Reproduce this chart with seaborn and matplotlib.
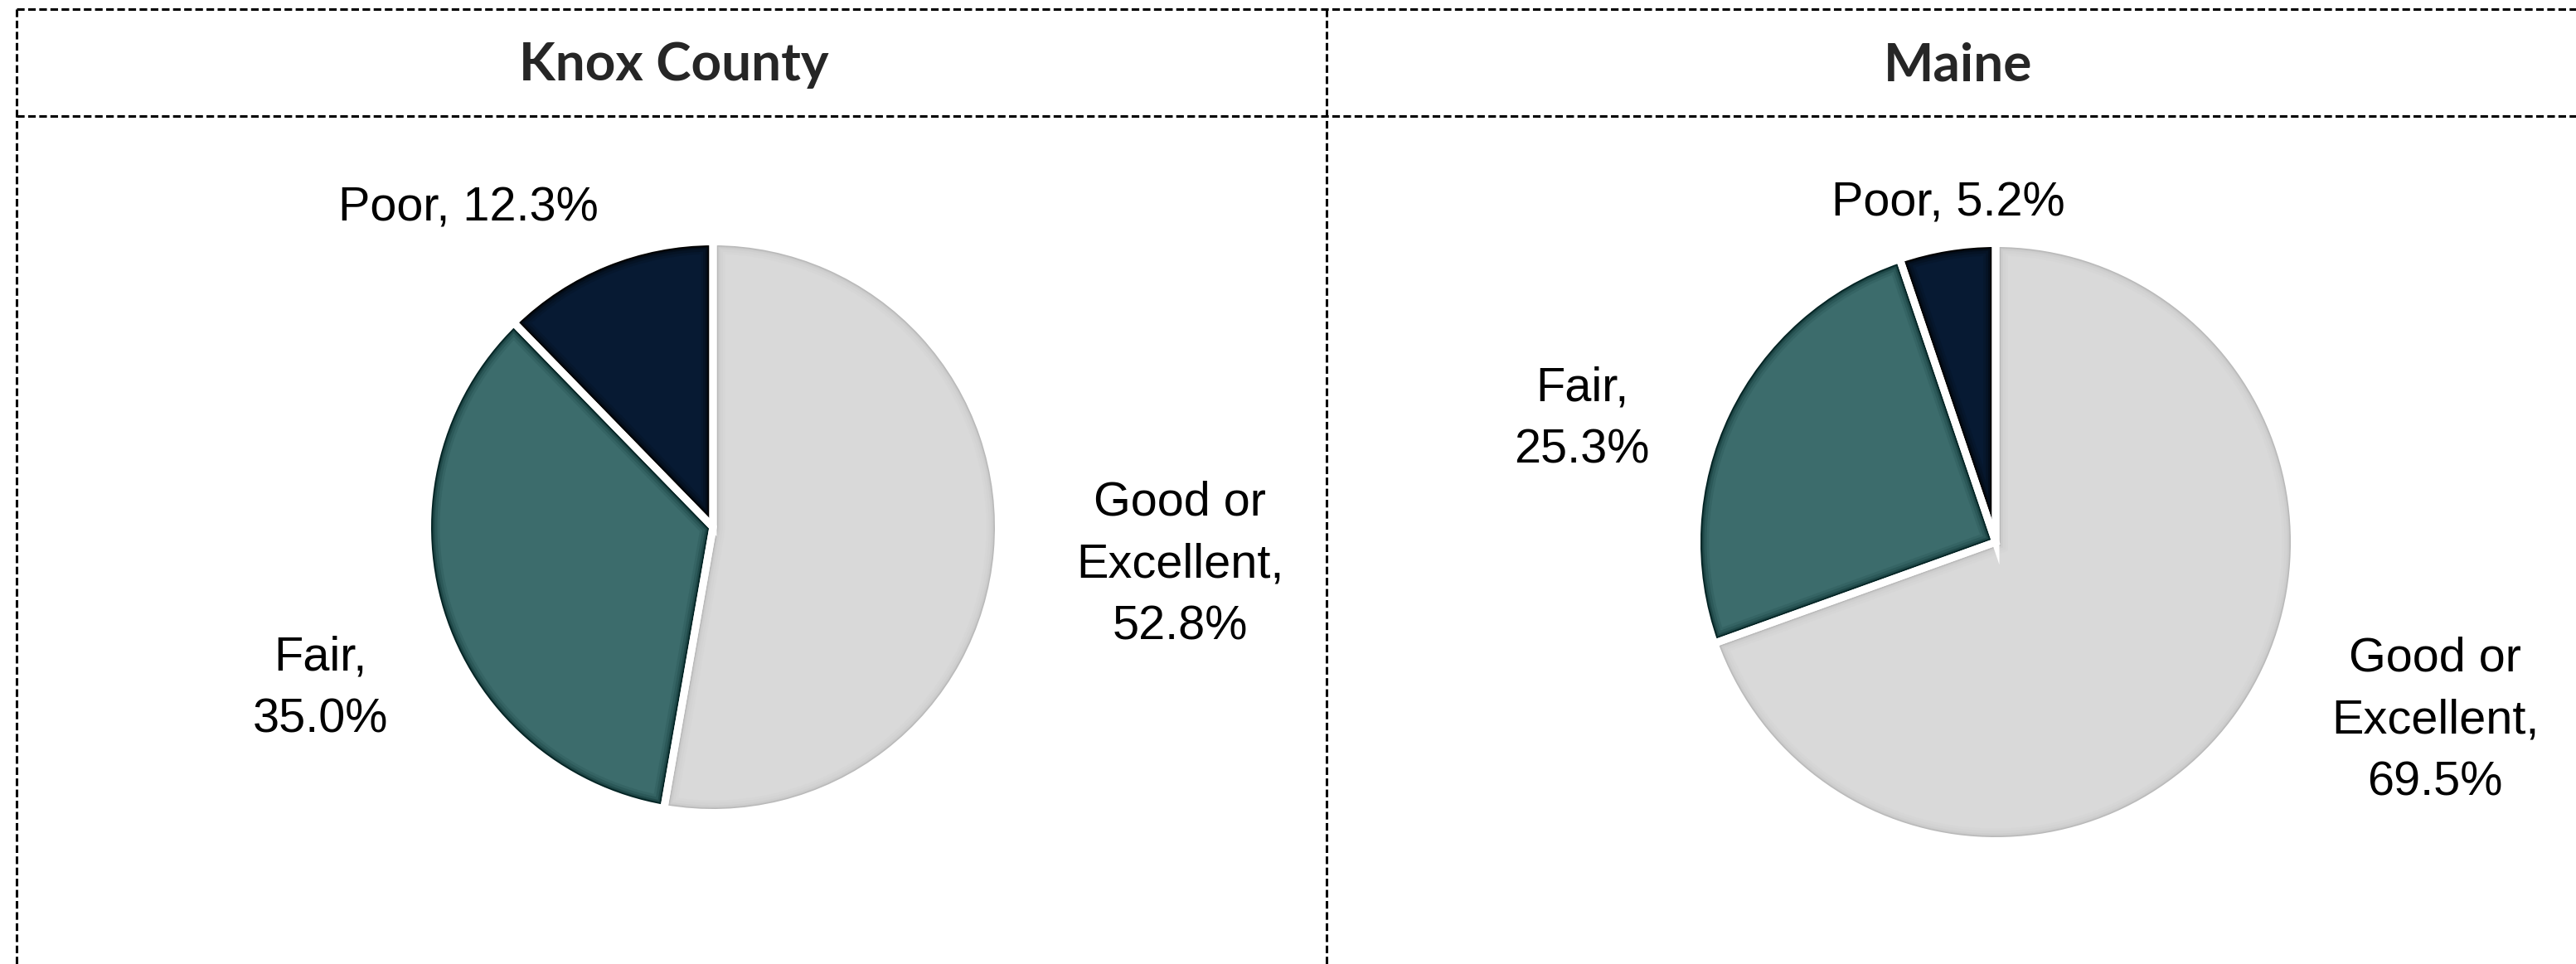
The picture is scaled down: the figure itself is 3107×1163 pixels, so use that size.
import matplotlib
matplotlib.use("Agg")
import matplotlib.pyplot as plt
import seaborn as sns

# Self-rated health, share of adults
categories = ["Good or Excellent", "Fair", "Poor"]
label_lines = ["Good or\nExcellent,", "Fair,", "Poor,"]
knox_values = [52.8, 35.0, 12.3]
maine_values = [69.5, 25.3, 5.2]
panel_titles = ["Knox County", "Maine"]

slice_colors = ["#D9D9D9", "#3C6C6C", "#071A33"]
shade_colors = ["#B4B4B4", "#012222", "#000000"]
shade_strength = [0.55, 1.0, 1.0]

sns.set_theme(style="white")
plt.rcParams["font.family"] = ["Liberation Sans", "DejaVu Sans"]

W, H = 3107, 1163
fig = plt.figure(figsize=(W / 100, H / 100), dpi=100)
fig.patch.set_facecolor("white")

# Full-figure layer in pixel units for the frame and headers
bg = fig.add_axes([0, 0, 1, 1])
bg.set_xlim(0, W)
bg.set_ylim(H, 0)
bg.axis("off")

dash = dict(color="black", lw=2.2, linestyle=(0, (3.0, 1.4)), solid_capstyle="butt")
left_x, mid_x, right_x = 20, 1600, 3124
top_y, head_y = 11, 140
bg.plot([left_x, W + 10], [top_y, top_y], **dash)
bg.plot([left_x, W + 10], [head_y, head_y], **dash)
bg.plot([left_x, left_x], [top_y, H + 10], **dash)
bg.plot([mid_x, mid_x], [top_y, H + 10], **dash)

for title, cx in zip(panel_titles, [(left_x + mid_x) / 2 + 3, (mid_x + right_x) / 2]):
    bg.text(cx, (top_y + head_y) / 2 + 3, title, ha="center", va="center",
            fontsize=46, fontweight="bold", family=["Lato", "DejaVu Sans"])


def draw_pie(values, cx, cy, r, label_pos):
    gap = 9  # white separator width in px
    R = r + gap / 2
    ax = fig.add_axes([(cx - R) / W, 1 - (cy + R) / H, 2 * R / W, 2 * R / H])
    wedges, _ = ax.pie(values, colors=slice_colors, startangle=90, counterclock=False,
                       radius=1, wedgeprops=dict(linewidth=0))
    # soft dark rim inside each slice
    for w, sc, k in zip(wedges, shade_colors, shade_strength):
        for lw_px, a in [(30, 0.10), (24, 0.16), (18, 0.28), (14, 0.45), (11, 0.75), (9 + 3, 1.0)]:
            rim = matplotlib.patches.Wedge(w.center, w.r, w.theta1, w.theta2,
                                           facecolor="none", edgecolor=sc,
                                           linewidth=lw_px * 0.72, alpha=a * k)
            ax.add_patch(rim)
            rim.set_clip_path(w)
    # white separators
    for w in wedges:
        sep = matplotlib.patches.Wedge(w.center, w.r, w.theta1, w.theta2,
                                       facecolor="none", edgecolor="white",
                                       linewidth=gap * 0.72, joinstyle="miter")
        ax.add_patch(sep)
        sep.set_clip_on(False)
    ax.set_xlim(-1, 1)
    ax.set_ylim(-1, 1)
    ax.set_aspect("auto")
    ax.axis("off")
    for head, v, (lx, ly) in zip(label_lines, values, label_pos):
        text = f"{head} {v:.1f}%" if head == "Poor," else f"{head}\n{v:.1f}%"
        bg.text(lx, ly, text, ha="center", va="center", fontsize=41.5,
                linespacing=1.5, color="black")


draw_pie(knox_values, 860, 636, 340,
         [(1423, 681), (386, 831), (565, 252)])
draw_pie(maine_values, 2407, 654, 356,
         [(2937, 869), (1908, 506), (2350, 246)])

fig.savefig("out.png", dpi=100, facecolor="white")
